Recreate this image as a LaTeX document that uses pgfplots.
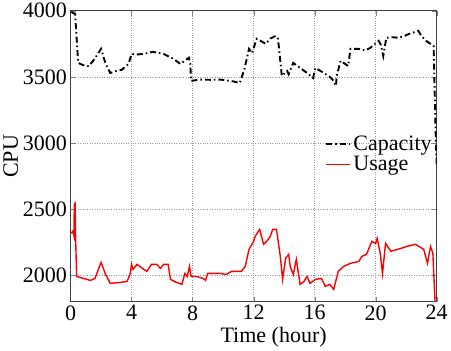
\documentclass[border=0pt]{standalone}
\usepackage{pgfplots}
\pgfplotsset{compat=1.18}
\usepackage{fontspec}
\setmainfont{Liberation Serif}
\begin{document}
\begin{tikzpicture}
\begin{axis}[
  scale only axis,
  width=366pt, height=291pt,
  xmin=0, xmax=24, ymin=1800, ymax=4000,
  xtick={0,4,...,24},
  ytick={2000,2500,3000,3500,4000},
  yticklabel style={/pgf/number format/1000 sep={}},
  /pgf/number format/assume math mode=true,
  tick label style={font=\fontsize{22}{26}\selectfont},
  label style={font=\fontsize{22}{26}\selectfont},
  xlabel={Time (hour)},
  ylabel={CPU},
  xlabel style={yshift=0pt, xshift=20pt},
  ylabel style={yshift=-2pt},
  grid=major,
  major grid style={dotted, gray!80, line width=0.7pt},
  tick align=inside,
  major tick length=5pt,
  axis line style={black!75, line width=0.8pt},
  legend style={draw=none, fill=none, at={(0.995,0.58)}, anchor=north east,
    font=\fontsize{22}{26}\selectfont, row sep=0pt, inner sep=1pt},
  legend cell align=left,
  legend image code/.code={\draw[#1] (0pt,0pt) -- (24pt,0pt);},
]
\addplot[black, line width=1.9pt, dash pattern=on 6pt off 3pt on 1.5pt off 3pt] coordinates {
(0.05,3990) (0.3,3977) (0.5,3606) (0.8,3590) (1.2,3580) (1.6,3640) (2.0,3712) (2.3,3600) (2.6,3530)
(3.0,3545) (3.35,3553) (3.8,3598) (4.0,3674) (4.4,3670) (4.8,3674) (5.4,3690) (6.1,3674) (6.75,3636)
(7.2,3598) (7.75,3645) (7.85,3600) (7.9,3470) (8.5,3480) (9.2,3478) (9.8,3480) (10.5,3470) (11.1,3455)
(11.4,3560) (11.7,3712) (11.9,3680) (12.2,3788) (12.5,3770) (12.8,3750) (13.1,3790) (13.45,3810)
(13.6,3788) (13.85,3508) (14.2,3545) (14.3,3520) (14.6,3606) (14.9,3580) (15.15,3560) (15.5,3530)
(15.9,3492) (16.05,3568) (16.6,3530) (17.0,3500) (17.25,3470) (17.4,3432) (17.45,3508) (17.7,3621)
(18.2,3583) (18.35,3712) (18.9,3712) (19.3,3700) (19.65,3720) (20.2,3773) (20.35,3740) (20.5,3659)
(20.7,3796) (21.1,3800) (21.5,3796) (21.9,3810) (22.2,3826) (22.8,3848) (23.0,3810) (23.3,3773)
(23.8,3735) (23.95,3000) (24,2840)
};
\addlegendentry{Capacity}
\addplot[red, line width=1.4pt] coordinates {
(0.05,2318) (0.15,2333) (0.22,2300) (0.25,2538) (0.3,2545) (0.33,2295) (0.4,1992) (0.85,1977)
(1.3,1962) (1.6,1977) (2.0,2098) (2.3,2007) (2.6,1940) (3.25,1947) (3.7,1954) (3.9,2007) (4.0,2083)
(4.1,2045) (4.35,2083) (5.0,2030) (5.3,2083) (5.65,2083) (5.9,2053) (6.1,2083) (6.4,2083) (6.55,1970)
(6.95,1947) (7.3,1932) (7.5,2015) (7.65,1992) (7.8,2068) (7.9,1992) (8.25,1992) (8.7,1977) (8.85,1962)
(9.0,2015) (9.8,2015) (10.2,2007) (10.55,2030) (11.2,2030) (11.45,2068) (11.7,2197) (12.0,2257)
(12.1,2295) (12.4,2348) (12.65,2235) (12.85,2257) (13.1,2295) (13.25,2348) (13.5,2348) (13.75,2144)
(13.9,1970) (14.1,2129) (14.3,2159) (14.4,2068) (14.6,2007) (14.8,2121) (15.05,1932) (15.3,1954)
(15.5,1992) (15.7,1940) (16.05,1970) (16.45,1977) (16.7,1917) (17.0,1932) (17.25,1894) (17.55,2030)
(17.9,2068) (18.35,2091) (18.9,2106) (19.1,2144) (19.4,2159) (19.75,2257) (20.0,2242) (20.1,2280)
(20.3,2167) (20.45,2015) (20.65,2242) (21.0,2182) (21.65,2204) (22.05,2219) (22.6,2235) (23.15,2197)
(23.4,2091) (23.6,2219) (23.75,2167) (23.9,1790)
};
\addlegendentry{Usage}
\end{axis}
\end{tikzpicture}
\end{document}
